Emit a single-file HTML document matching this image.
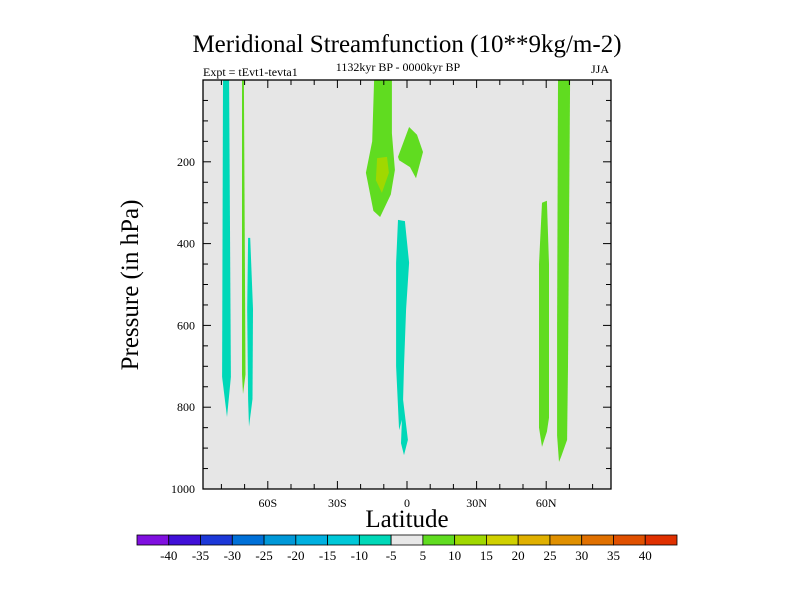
<!DOCTYPE html>
<html><head><meta charset="utf-8"><style>
html,body{margin:0;padding:0;background:#fff;}
svg{display:block;font-family:"Liberation Serif",serif;}
</style></head><body>
<svg id="c" width="800" height="600" xmlns="http://www.w3.org/2000/svg"></svg>
<script>
const xTicks=[-60,-30,0,30,60];
const xTickLabels=["60S","30S","0","30N","60N"];
const yTicks=[200,400,600,800,1000];
const levelLabels=["-40","-35","-30","-25","-20","-15","-10","-5","5","10","15","20","25","30","35","40"];
const levelColors=["#8010e0","#4010d8","#1c38d8","#0070d8","#0098d8","#00b0e0","#00c8d8","#00d8b8","#e8e8e8","#60dc20","#a0d800","#d0d000","#e0b000","#e09000","#e07000","#e05000","#e03000"];
const shapeColors=["#00d8b8","#60dc20","#00d8b8","#60dc20","#60dc20","#a0d800","#00d8b8","#60dc20","#60dc20"];
const shapeNames=["cyan-contour-80s","green-contour-70s","cyan-contour-68s","green-contour-tropics","green-lobe-eq","yellow-contour-tropics","cyan-contour-eq","green-contour-60n","green-contour-67n"];
const shapes=[
[[-79.3,0],[-76.7,0],[-75.9,726],[-77.6,824],[-79.7,726]],
[[-71.1,0],[-70.3,0],[-69.6,720],[-70.7,768],[-71.1,720]],
[[-68.5,386],[-67.6,386],[-66.4,560],[-66.6,780],[-68.1,848],[-68.5,780],[-68.9,560]],
[[-14.2,0],[-6.5,0],[-6.5,130],[-5.2,220],[-7,280],[-11.6,335],[-14.5,320],[-17.7,227],[-15,150]],
[[-3.9,188],[0.9,115],[4.3,134],[6.9,176],[3.9,240],[1.3,213],[-3.4,196]],
[[-12.9,191],[-8.6,188],[-7.8,227],[-10.8,276],[-13.4,245]],
[[-3.9,342],[-0.9,345],[0.9,447],[-0.4,560],[-1.3,700],[-1.7,782],[0.4,880],[-1.3,917],[-2.6,888],[-2.2,831],[-3.4,856],[-4.7,700],[-4.7,447]],
[[58.2,300],[60.3,295],[61.2,450],[61.2,826],[60.3,860],[58.2,897],[56.9,850],[56.9,450]],
[[65.1,0],[70.3,0],[69.4,700],[69.0,880],[66.5,920],[65.5,934],[64.7,870],[64.7,600]]
];
const L=203,R=611,T=80,B=489;
const xs=lat=>407+lat*2.32;
const ys=p=>T+p*(B-T)/1000;
const svg=document.getElementById('c');
const NS="http://www.w3.org/2000/svg";
function mk(tag,attrs,parent){const e=document.createElementNS(NS,tag);for(const k in attrs)e.setAttribute(k,attrs[k]);(parent||svg).appendChild(e);return e;}
function txt(s,attrs){const e=mk('text',attrs);e.textContent=s;return e;}
let e;
e=mk('rect',{x:L,y:T,width:R-L,height:B-T,fill:'#e6e6e6'});


shapes.forEach((s,i)=>{
 const p=mk('polygon',{points:s.map(d=>xs(d[0]).toFixed(1)+','+ys(d[1]).toFixed(1)).join(' '),fill:shapeColors[i]});
 
 
});
e=mk('rect',{x:L,y:T,width:R-L,height:B-T,fill:'none',stroke:'#000','stroke-width':1.3});


for(let lat=-80;lat<=80;lat+=10){
 const x=xs(lat),major=lat%30===0;
 mk('line',{x1:x,x2:x,y1:B,y2:B-(major?8:5),stroke:'#000'});
 mk('line',{x1:x,x2:x,y1:T,y2:T+(major?8:5),stroke:'#000'});
}
for(let p=50;p<1000;p+=50){
 const y=ys(p),major=p%200===0;
 mk('line',{x1:L,x2:L+(major?8:5),y1:y,y2:y,stroke:'#000'});
 mk('line',{x1:R,x2:R-(major?8:5),y1:y,y2:y,stroke:'#000'});
}
xTicks.forEach((v,i)=>{
 e=txt(xTickLabels[i],{x:xs(v),y:B+18,'text-anchor':'middle','font-size':12});
 
 
});
yTicks.forEach(v=>{
 e=txt(String(v),{x:L-8,y:ys(v)+4,'text-anchor':'end','font-size':12});
 
 
});
e=txt('Meridional Streamfunction (10**9kg/m-2)',{x:407,y:52,'text-anchor':'middle','font-size':25});


e=txt('Expt = tEvt1-tevta1',{x:L,y:76,'font-size':12});


e=txt('1132kyr BP - 0000kyr BP',{x:398,y:71,'text-anchor':'middle','font-size':12});


e=txt('JJA',{x:R-2,y:73,'text-anchor':'end','font-size':12});


e=txt('Pressure (in hPa)',{x:0,y:0,'text-anchor':'middle','font-size':25,transform:'translate(138,285) rotate(-90)'});


e=txt('Latitude',{x:407,y:527,'text-anchor':'middle','font-size':25});


const cbL=137,cbW=540,cbT=535,cbH=10,bw=cbW/levelColors.length;
levelColors.forEach((c,i)=>{
 e=mk('rect',{x:cbL+i*bw,y:cbT,width:bw,height:cbH,fill:c,stroke:'#000','stroke-width':0.8});
 
 
});
levelLabels.forEach((s,i)=>{
 e=txt(s,{x:cbL+(i+1)*bw,y:cbT+cbH+15,'text-anchor':'middle','font-size':13});
 
 
});
</script>
</body></html>
